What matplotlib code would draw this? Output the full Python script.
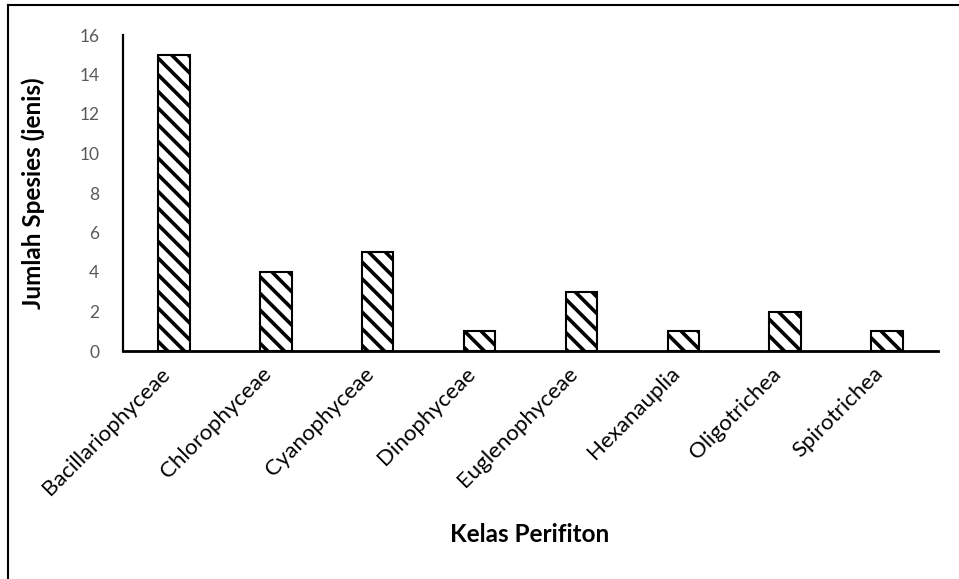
import numpy as np
import matplotlib
matplotlib.use('Agg')
import matplotlib.pyplot as plt
from matplotlib.lines import Line2D
from matplotlib.transforms import ScaledTranslation

kelas = ['Bacillariophyceae', 'Chlorophyceae', 'Cyanophyceae', 'Dinophyceae',
         'Euglenophyceae', 'Hexanauplia', 'Oligotrichea', 'Spirotrichea']
jumlah = [15, 4, 5, 1, 3, 1, 2, 1]
y_ticks = [0, 2, 4, 6, 8, 10, 12, 14, 16]

plt.rcParams['font.family'] = ['Lato', 'DejaVu Sans']
plt.rcParams['hatch.linewidth'] = 2.6
plt.rcParams['hatch.color'] = 'black'

fig = plt.figure(figsize=(9.59, 5.79), dpi=100)
ax = fig.add_axes([123/959, 1-351/579, (938-123)/959, (351-35)/579])

x = np.arange(len(kelas))
ax.bar(x, jumlah, width=0.31, color='white', edgecolor='black', linewidth=1.5,
       hatch='\\\\', zorder=2)

ax.set_xlim(-0.5, len(kelas)-0.5)
ax.set_ylim(0, 16)
ax.set_yticks(y_ticks)
ax.set_yticklabels([str(t) for t in y_ticks], color='#595959', fontsize=12.5)
ax.set_xticks(x)
ax.set_xticklabels(kelas, rotation=45, ha='right', va='center',
                   rotation_mode='anchor', fontsize=16, color='black')
ax.tick_params(axis='both', length=0)
ax.tick_params(axis='y', pad=17)
ax.tick_params(axis='x', pad=12)
shift = ScaledTranslation(-7/100, -3/100, fig.dpi_scale_trans)
for lab in ax.get_xticklabels():
    lab.set_transform(lab.get_transform() + shift)

for s in ['top', 'right']:
    ax.spines[s].set_visible(False)
ax.spines['left'].set_linewidth(1.6)
ax.spines['bottom'].set_linewidth(2.0)

ax.set_ylabel('Jumlah Spesies (jenis)', fontsize=17.5, fontweight='bold')
ax.yaxis.set_label_coords((45-123)/815, 0.5)
fig.text(530/959, 1-535/579, 'Kelas Perifiton', fontsize=17.5, fontweight='bold',
         ha='center', va='center')

# frame on the left and top edges of the picture
fig.add_artist(Line2D([8/959, 8/959], [0, 1-5/579], transform=fig.transFigure,
                      color='black', lw=1.5))
fig.add_artist(Line2D([8/959, 1], [1-5/579, 1-5/579], transform=fig.transFigure,
                      color='black', lw=1.5))

fig.savefig('out.png', dpi=100)
